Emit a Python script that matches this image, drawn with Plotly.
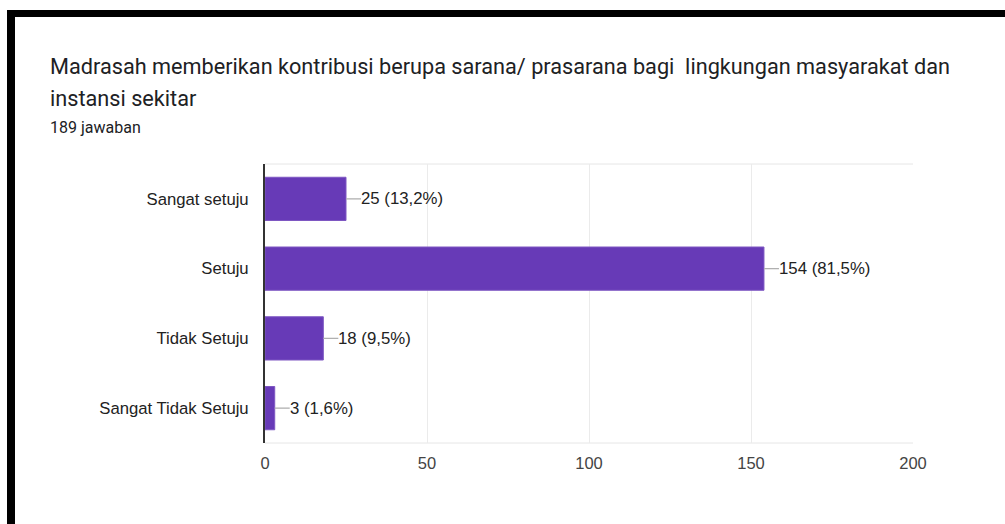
import plotly.graph_objects as go

categories = ["Sangat setuju", "Setuju", "Tidak Setuju", "Sangat Tidak Setuju"]
values = [25, 154, 18, 3]
labels = ["25 (13,2%)", "154 (81,5%)", "18 (9,5%)", "3 (1,6%)"]
x_ticks = [0, 50, 100, 150, 200]
title_line1 = "Madrasah memberikan kontribusi berupa sarana/ prasarana bagi  lingkungan masyarakat dan"
title_line2 = "instansi sekitar"
subtitle = "189 jawaban"

W, H = 1005, 524
L, R, T, B = 265, 913, 164, 443

def px(x):
    return (x - L) / (R - L)

def py(y):
    return (B - y) / (B - T)

FONT = "Liberation Sans, Arial"

fig = go.Figure()
fig.add_trace(go.Bar(
    y=categories, x=values, orientation="h",
    marker=dict(color="#673ab7", line=dict(color="#7e57c2", width=1)),
    width=0.62, hoverinfo="skip",
))

shapes = []
annotations = []
for c, v, lab in zip(categories, values, labels):
    shapes.append(dict(type="line", xref="x", yref="y", xsizemode="pixel",
                       xanchor=v, x0=0, x1=15, y0=c, y1=c,
                       line=dict(color="#b0b0b0", width=1.3)))
    annotations.append(dict(x=v, y=c, xref="x", yref="y", text=lab,
                            showarrow=False, xanchor="left", xshift=13,
                            font=dict(family=FONT, size=16.8, color="#222222")))

# black frame edges
shapes.append(dict(type="rect", xref="paper", yref="paper",
                   x0=px(7), x1=px(W + 5), y0=py(17), y1=py(10),
                   fillcolor="black", line=dict(width=0), layer="above"))
shapes.append(dict(type="rect", xref="paper", yref="paper",
                   x0=px(7), x1=px(15), y0=py(H + 5), y1=py(10),
                   fillcolor="black", line=dict(width=0), layer="above"))
# plot frame
shapes.append(dict(type="line", xref="paper", yref="paper", x0=0, x1=1, y0=1, y1=1,
                   line=dict(color="#e6e6e6", width=1), layer="below"))
shapes.append(dict(type="line", xref="paper", yref="paper", x0=0, x1=1, y0=0, y1=0,
                   line=dict(color="#e6e6e6", width=1), layer="below"))

for txt, y, size in [(title_line1, 66, 21.7), (title_line2, 99, 21.7), (subtitle, 127, 16)]:
    annotations.append(dict(x=px(48), y=py(y), xref="paper", yref="paper", text=txt,
                            showarrow=False, xanchor="left", yanchor="middle",
                            font=dict(family="Roboto", size=size, color="#202124")))

fig.update_layout(
    width=W, height=H,
    margin=dict(l=L, r=W - R, t=T, b=H - B),
    paper_bgcolor="white", plot_bgcolor="white",
    showlegend=False,
    shapes=shapes, annotations=annotations,
    xaxis=dict(range=[0, 200], tickvals=x_ticks, showgrid=True, gridcolor="#ebebeb",
               zeroline=False, showline=False, ticks="", ticklabelstandoff=8,
               tickfont=dict(family=FONT, size=16.5, color="#444444"),
               fixedrange=True),
    yaxis=dict(categoryorder="array", categoryarray=categories[::-1],
               showgrid=False, zeroline=False, showline=True, linecolor="#333333", linewidth=2,
               ticks="", ticklabelstandoff=11,
               tickfont=dict(family=FONT, size=16.7, color="#222222"),
               fixedrange=True),
)

fig.write_html("out.html", config={"displayModeBar": False},
               post_script="document.body.style.margin='0';document.body.style.padding='0';document.documentElement.style.overflow='hidden';")
